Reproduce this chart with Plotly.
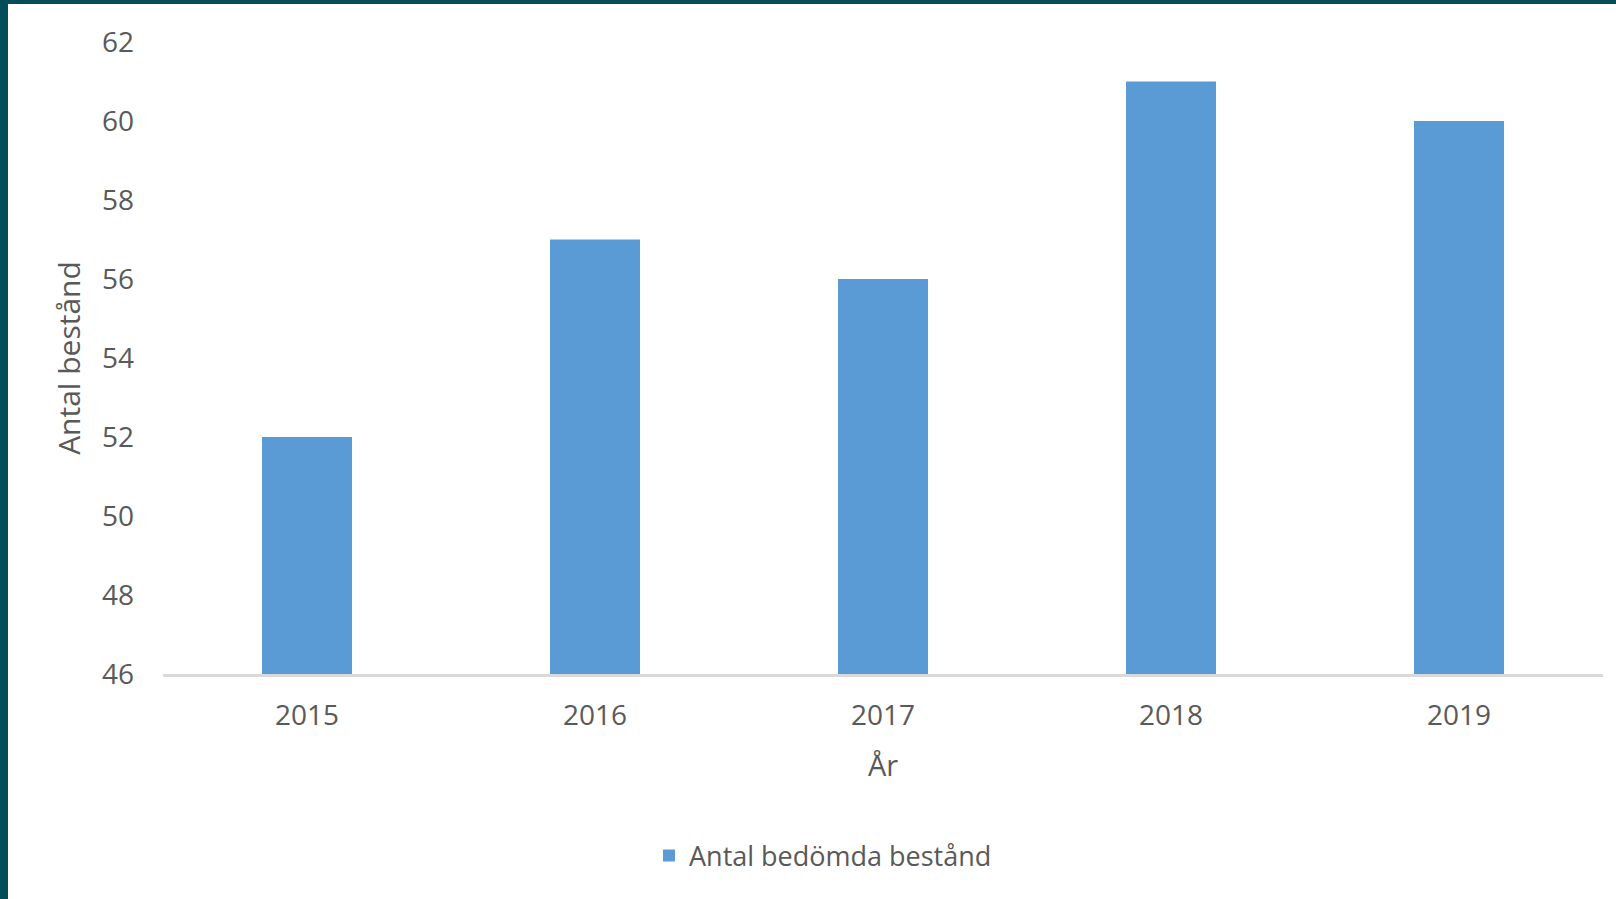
import plotly.graph_objects as go

years = ["2015", "2016", "2017", "2018", "2019"]
values = [52, 57, 56, 61, 60]
series_name = "Antal bedömda bestånd"
y_ticks = [46, 48, 50, 52, 54, 56, 58, 60, 62]

W, H = 1616, 899
L, R, T, B = 163, 13, 42, 225
pw, ph = W - L - R, H - T - B
FONT = "Open Sans"
GREY = "#595959"
TEAL = "#034C59"

fig = go.Figure()
fig.add_trace(go.Bar(x=years, y=values, name=series_name,
                     marker=dict(color="#5B9BD5", line=dict(width=0))))

fig.update_layout(
    width=W, height=H,
    margin=dict(l=L, r=R, t=T, b=B, autoexpand=False),
    paper_bgcolor="white", plot_bgcolor="white",
    font=dict(family=FONT, color=GREY, size=28),
    bargap=0.6875,
    showlegend=True,
    legend=dict(orientation="h", x=(649 - L) / pw, xanchor="left",
                y=-(856 - (T + ph)) / ph, yanchor="middle",
                font=dict(size=27, color=GREY), bgcolor="rgba(0,0,0,0)"),
    xaxis=dict(showgrid=False, showline=True, linecolor="#D9D9D9", linewidth=3,
               ticks="", ticklabelstandoff=14, tickfont=dict(size=28, color=GREY),
               title=dict(text="År", font=dict(size=29, color=GREY), standoff=25)),
    yaxis=dict(range=[46, 62], tickvals=y_ticks, showgrid=False, showline=False,
               zeroline=False, ticks="", ticklabelstandoff=28,
               tickfont=dict(size=28, color=GREY),
               title=dict(text="Antal bestånd", font=dict(size=30, color=GREY), standoff=12)),
)

# dark teal frame at top and left edge
fig.add_shape(type="rect", xref="paper", yref="paper",
              x0=-L / pw, x1=(W - L) / pw, y0=(ph + T - 4) / ph, y1=(ph + T) / ph,
              fillcolor=TEAL, line=dict(width=0), layer="above")
fig.add_shape(type="rect", xref="paper", yref="paper",
              x0=-L / pw, x1=(8 - L) / pw, y0=-B / ph, y1=(ph + T) / ph,
              fillcolor=TEAL, line=dict(width=0), layer="above")

fig.write_html("out.html", config={"displayModeBar": False},
               post_script="document.body.style.margin='0';document.body.style.padding='0';")
